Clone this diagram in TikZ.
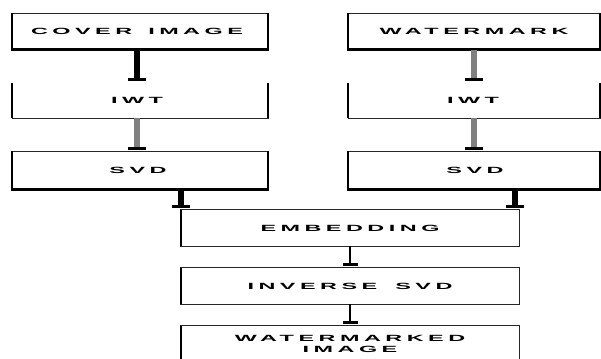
\documentclass[tikz,border=0pt]{standalone}
\usepackage{fontspec}
\newfontfamily\boxfont[FakeStretch=2.6,LetterSpace=50]{Liberation Sans Bold}
\usetikzlibrary{arrows.meta,calc}
\begin{document}
\begin{tikzpicture}[x=1pt,y=-1pt,
  lbl/.style={inner sep=0pt, align=center, font=\boxfont\fontsize{9}{11.5}\selectfont},
  lcol/.style={lbl, minimum width=256pt},
  rcol/.style={lbl, minimum width=252pt},
  ccol/.style={lbl, minimum width=338pt, minimum height=36pt},
  edge/.style={draw=black!85, line width=0.9pt},
  heavy/.style={draw=black, line width=3pt},
  side/.style={draw=black, line width=1.6pt},
  blackarrow/.style={draw=black, line width=5.5pt, -{Rectangle[width=18pt,length=3pt]}},
  grayarrow/.style={draw=black!50, line width=5.5pt, -{Rectangle[width=18pt,length=3pt,color=black,fill=black]}},
  smallarrow/.style={draw=black, line width=2.8pt, -{Rectangle[width=15pt,length=2.5pt]}}
]
\useasboundingbox (0,0) rectangle (601,358);
\clip (0,0) rectangle (601,358);
\fill[white] (0,0) rectangle (601,358);

% left column
\node[lcol, minimum height=37pt] (cover) at (137,31.5) {COVER\hspace{5pt} IMAGE};
\node[lcol, minimum height=35pt] (iwt1) at (137,100.5) {IWT};
\node[lcol, minimum height=38pt] (svd1) at (138,170) {SVD};
% right column
\node[rcol, minimum height=37pt] (wmk) at (474,31.5) {WATERMARK};
\node[rcol, minimum height=35pt] (iwt2) at (473,100.5) {IWT};
\node[rcol, minimum height=38pt] (svd2) at (475,170) {SVD};
% centre column
\node[ccol] (embed) at (350,228) {EMBEDDING};
\node[ccol] (inv) at (350,286) {INVERSE\hspace{7pt} SVD};
\node[ccol] (wmd) at (350,344) {WATERMARKED\\IMAGE};
\coordinate (er) at ($(embed.north east)+(-4,0)$);

% box frames (fixed extents, independent of the text position)
\coordinate (L1a) at (12,13);  \coordinate (L1b) at (268,50);
\coordinate (L2a) at (12,83);  \coordinate (L2b) at (268,118);
\coordinate (L3a) at (12,151); \coordinate (L3b) at (268,189);
\coordinate (R1a) at (348,13);  \coordinate (R1b) at (600,50);
\coordinate (R2a) at (348,83);  \coordinate (R2b) at (600,118);
\coordinate (R3a) at (348,151); \coordinate (R3b) at (600,189);

\foreach \a/\b in {L1a/L1b,L3a/L3b,R1a/R1b,R3a/R3b}{
  \draw[edge] (\a) rectangle (\b);
  \draw[side] (\a) -- (\a |- \b);
  \draw[side] (\b |- \a) -- (\b);
  \draw[heavy] ([xshift=-0.8pt]\a |- \b) -- ([xshift=0.8pt]\b);
}
\foreach \a/\b in {L2a/L2b,R2a/R2b}{
  \draw[edge] (\a) -- (\a |- \b) -- (\b) -- (\b |- \a);
  \draw[side] (\a) -- (\a |- \b);
  \draw[side] (\b |- \a) -- (\b);
}
% centre boxes
\foreach \n in {embed,inv,wmd}{
  \draw[edge] (\n.south west) rectangle (\n.north east);
  \draw[side] (\n.north west) -- (\n.south west);
}

% connectors
\draw[blackarrow] (cover.south |- L1b) -- ([yshift=2pt]iwt1.north |- L2a);
\draw[grayarrow] (iwt1.south |- L2b) -- ([yshift=1pt]svd1.north -| iwt1.north |- L3a);
\draw[grayarrow] (wmk.south |- R1b) -- ([yshift=2pt]iwt2.north -| wmk.south |- R2a);
\draw[grayarrow] (wmk.south |- R2b) -- ([yshift=1pt]svd2.north -| wmk.south |- R3a);
\draw[blackarrow] (svd1.south -| embed.north west) -- ([yshift=2pt]embed.north west);
\draw[blackarrow] (svd2.south -| er) -- ([yshift=2pt]er);
\draw[smallarrow] (embed.south) -- ([yshift=2pt]inv.north);
\draw[smallarrow] (inv.south) -- ([yshift=2pt]wmd.north);
\end{tikzpicture}
\end{document}
